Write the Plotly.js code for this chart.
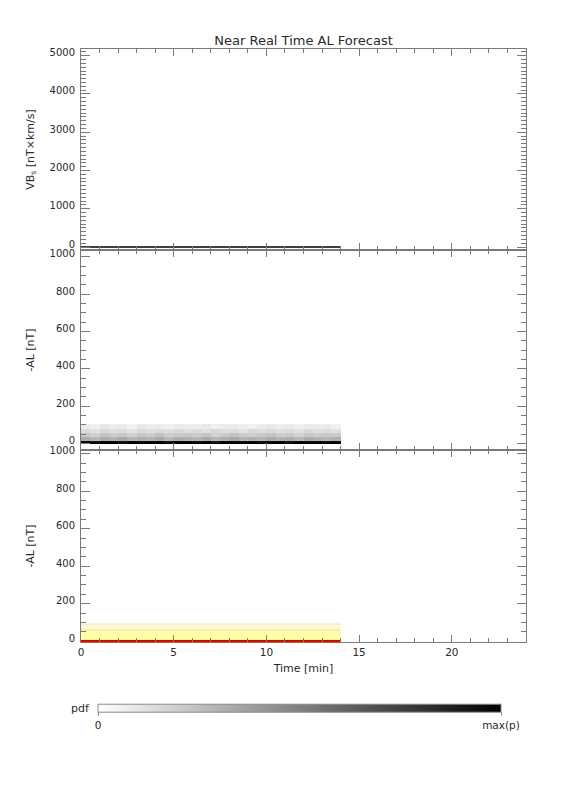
<!DOCTYPE html>
<html>
<head>
<meta charset="utf-8">
<script src="https://cdn.plot.ly/plotly-3.0.1.min.js"></script>
<style>html,body{margin:0;padding:0;background:#fff;}#chart{width:576px;height:792px;}</style>
</head>
<body>
<div id="chart"></div>
<script>
// ---- data ----
const vbsTime = [0, 1, 2, 3, 4, 5, 6, 7, 8, 9, 10, 11, 12, 13, 14];
const vbsValue = [0, 0, 0, 0, 0, 0, 0, 0, 0, 0, 0, 0, 0, 0, 0];

// AL pdf (panel 2): bin edges in time [min] and -AL [nT]
const pdfTimeEdges = [0, 0.5, 1, 1.5, 2, 2.5, 3, 3.5, 4, 4.5, 5, 5.5, 6, 6.5, 7,
  7.5, 8, 8.5, 9, 9.5, 10, 10.5, 11, 11.5, 12, 12.5, 13, 13.5, 14];
const pdfALEdges = [0, 16, 35, 55, 80, 105];
const pdfRow0 = [1, 0.96, 1, 1, 0.94, 1, 0.98, 1, 1, 0.95, 1, 1, 0.97, 1, 0.94, 1, 1, 0.98, 1, 0.96, 1, 1, 0.94, 1, 0.98, 1, 0.96, 1];
const pdfRow1 = [0.32, 0.28, 0.33, 0.30, 0.34, 0.29, 0.31, 0.30, 0.33, 0.28, 0.32, 0.31, 0.29, 0.33, 0.28, 0.31, 0.34, 0.29, 0.31, 0.29, 0.33, 0.30, 0.32, 0.28, 0.33, 0.31, 0.29, 0.31];
const pdfRow2 = [0.22, 0.19, 0.23, 0.20, 0.22, 0.18, 0.22, 0.20, 0.24, 0.19, 0.21, 0.22, 0.20, 0.23, 0.18, 0.21, 0.23, 0.20, 0.19, 0.22, 0.23, 0.20, 0.21, 0.18, 0.22, 0.20, 0.22, 0.20];
const pdfRow3 = [0.14, 0.12, 0.15, 0.13, 0.14, 0.11, 0.15, 0.12, 0.14, 0.13, 0.15, 0.12, 0.14, 0.12, 0.15, 0.13, 0.14, 0.11, 0.15, 0.13, 0.14, 0.12, 0.14, 0.12, 0.15, 0.13, 0.14, 0.12];
const pdfRow4 = [0.08, 0.06, 0.09, 0.07, 0.08, 0.05, 0.09, 0.07, 0.08, 0.06, 0.08, 0.07, 0.07, 0.09, 0.06, 0.08, 0.08, 0.07, 0.05, 0.08, 0.09, 0.07, 0.08, 0.06, 0.08, 0.07, 0.08, 0.06];

// AL forecast (panel 3)
const fcTime = [0, 1, 2, 3, 4, 5, 6, 7, 8, 9, 10, 11, 12, 13, 14];
const fcUpperOuter = [92, 92, 92, 92, 92, 92, 92, 92, 92, 92, 92, 92, 92, 92, 92];
const fcUpperInner = [60, 60, 60, 60, 60, 60, 60, 60, 60, 60, 60, 60, 60, 60, 60];
const fcMedian = [0, 0, 0, 0, 0, 0, 0, 0, 0, 0, 0, 0, 0, 0, 0];

const xTickVals = [0, 5, 10, 15, 20];
const vbsTickVals = [0, 1000, 2000, 3000, 4000, 5000];
const alTickVals = [0, 200, 400, 600, 800, 1000];
const colorbarTickVals = [0, 1];
const colorbarTickText = ['0', 'max(p)'];

// ---- styling ----
const FONT = 'DejaVu Sans, sans-serif';
const AXC = '#7a7a7a';
const TXT = '#2a2a2a';

function xAxis(anchor, labels, title) {
  const a = {
    anchor: anchor, range: [0, 24], tickvals: xTickVals,
    ticks: 'inside', ticklen: 7, tickcolor: AXC, tickwidth: 1,
    minor: {dtick: 1, ticks: 'inside', ticklen: 4, tickcolor: AXC, tickwidth: 1},
    showline: true, linecolor: AXC, linewidth: 1, mirror: 'allticks',
    showgrid: false, zeroline: false, showticklabels: labels,
    tickfont: {family: FONT, size: 10.5, color: TXT}
  };
  if (anchor !== 'y') a.matches = 'x';
  if (title) a.title = {text: title, font: {family: FONT, size: 11, color: TXT}, standoff: 7};
  return a;
}
function yAxis(domain, range, tickvals, minorDtick, title) {
  return {
    domain: domain, range: range, tickvals: tickvals,
    ticks: 'inside', ticklen: 9, tickcolor: AXC, tickwidth: 1,
    minor: {dtick: minorDtick, ticks: 'inside', ticklen: 5, tickcolor: AXC, tickwidth: 1},
    showline: true, linecolor: AXC, linewidth: 1, mirror: 'allticks',
    showgrid: false, zeroline: false, ticklabelshift: -3, ticklabelstandoff: 3,
    tickfont: {family: FONT, size: 10, color: TXT},
    title: {text: title, font: {family: FONT, size: 11, color: TXT}, standoff: 12}
  };
}

const traces = [
  // Panel 1: VBs
  {type: 'scatter', mode: 'lines', x: vbsTime, y: vbsValue, xaxis: 'x3', yaxis: 'y3',
   line: {color: '#000000', width: 1.6}, hoverinfo: 'skip'},
  // Panel 2: AL pdf
  {type: 'heatmap', x: pdfTimeEdges, y: pdfALEdges,
   z: [pdfRow0, pdfRow1, pdfRow2, pdfRow3, pdfRow4],
   xaxis: 'x2', yaxis: 'y2', zmin: 0, zmax: 1, zsmooth: false,
   colorscale: [[0, '#ffffff'], [1, '#000000']],
   showscale: true,
   colorbar: {
     orientation: 'h', xref: 'paper', yref: 'paper',
     x: (299.5 - 81) / 445, xanchor: 'center', y: (642 - 718) / 593, yanchor: 'middle',
     lenmode: 'pixels', len: 423, thickness: 8,
     outlinewidth: 1, outlinecolor: '#8a8a8a',
     tickmode: 'array', tickvals: colorbarTickVals, ticktext: colorbarTickText,
     ticks: 'outside', ticklen: 4, tickcolor: '#8a8a8a',
     tickfont: {family: FONT, size: 10.5, color: TXT}
   },
   hoverinfo: 'skip'},
  // Panel 3: forecast bands
  {type: 'scatter', mode: 'lines', x: fcTime, y: fcUpperOuter, xaxis: 'x', yaxis: 'y',
   fill: 'tozeroy', fillcolor: '#fff9d4', line: {color: '#ffe2b0', width: 1.2}, hoverinfo: 'skip'},
  {type: 'scatter', mode: 'lines', x: fcTime, y: fcUpperInner, xaxis: 'x', yaxis: 'y',
   fill: 'tozeroy', fillcolor: '#ffffa6', line: {color: '#ffd9a0', width: 1.2}, hoverinfo: 'skip'},
  {type: 'scatter', mode: 'lines', x: fcTime, y: fcMedian, xaxis: 'x', yaxis: 'y',
   line: {color: '#e00000', width: 2.5}, hoverinfo: 'skip'}
];

const layout = {
  width: 576, height: 792,
  margin: {l: 81, r: 50, t: 49, b: 150},
  paper_bgcolor: '#ffffff', plot_bgcolor: '#ffffff',
  showlegend: false,
  font: {family: FONT, size: 11, color: TXT},
  title: {text: 'Near Real Time AL Forecast', x: 0.527, xanchor: 'center',
          y: 1 - 40 / 792, yanchor: 'middle', yref: 'container',
          font: {family: FONT, size: 13, color: TXT}},
  xaxis: xAxis('y', true, 'Time [min]'),
  xaxis2: xAxis('y2', false, null),
  xaxis3: xAxis('y3', false, null),
  yaxis: yAxis([0, 0.3238], [-4, 1020], alTickVals, 50, '-AL [nT]'),
  yaxis2: yAxis([0.3238, 0.661], [-34, 1036], alTickVals, 50, '-AL [nT]'),
  yaxis3: yAxis([0.661, 1], [-78, 5175], vbsTickVals, 100, 'VB<sub>s</sub> [nT×km/s]'),
  annotations: [
    {text: 'pdf', xref: 'paper', yref: 'paper', x: -0.001, y: -0.1113,
     xanchor: 'center', yanchor: 'middle', showarrow: false,
     font: {family: FONT, size: 11, color: TXT}}
  ]
};

Plotly.newPlot('chart', traces, layout, {staticPlot: true, displayModeBar: false});
</script>
</body>
</html>
